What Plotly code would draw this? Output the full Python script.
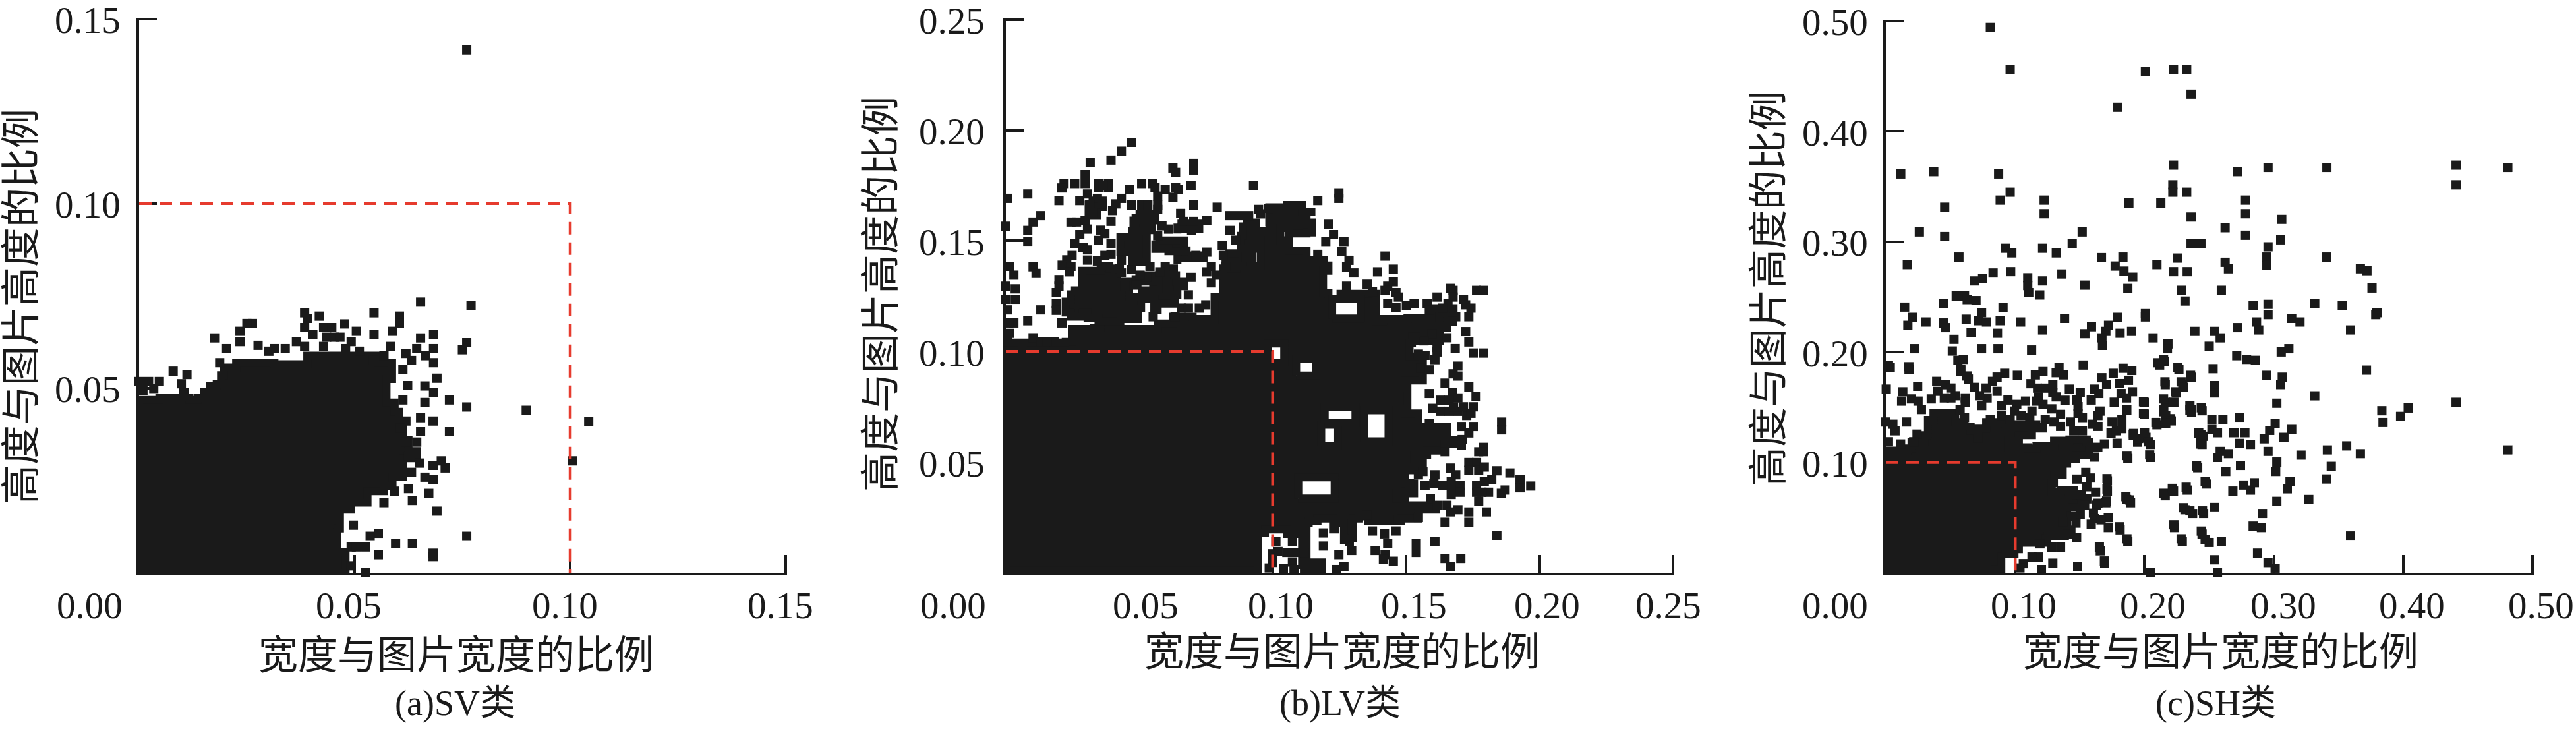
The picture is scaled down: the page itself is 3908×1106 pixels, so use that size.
import plotly.graph_objects as go

# All values below are in thousandths of the image ratio.
SV_POINTS = [(76,141.6),(77,72.3),(65.3,73.3),(76,62.3),(75,60.4),(0,51.8),(2.2,51.8),(4.7,51.8),(3.4,49.9),(.9,49.3),
(7.9,54.6),(11.1,53.7),(9.8,51.2),(10.4,48.9),(18.7,56.9),(17.5,63.6),(20.3,60.7),(23.4,65.4),(23.4,62.6),(26.3,67.5),(25,67.5),
(27.6,61.6),(30.1,60),(31.4,60.7),(33.9,60.7),(36.5,62.6),(38.4,61.3),(38.4,70.4),(39,68.9),(41.8,69.5),(38.4,66.4),
(40.3,64.6),(42.8,66.4),(44.7,66.4),(43.5,63.8),(42.8,61.3),(45.4,63.8),(47.7,67.4),(46.6,63.8),(50.4,65.4),(49.2,62.6),(51.1,60),(47.9,60.7),
(54.5,70.4),(60.4,69.5),(60.4,67.6),(58.8,65.4),(54.5,64.5),(58.3,61.3),(54.3,57.5),(56.8,58.8),(61.9,59.4),(64.4,60.7),(65.3,63.6),(68.3,64.5),(68.3,60.7),(66.4,58.8),(63.2,57.5),(61.2,55),
(68.3,56.9),(69.1,52.7),(66.3,50.6),(68.3,48.9),(62.3,50.7),(61.2,46.8),(66.3,46.1),
(72,46.8),(76,44.9),(89.8,44),(104.3,41),(100.5,30.3),(72,38.2),(68.2,41.1),(65.3,42),(65.3,38.2),(61.9,41.1),(60.6,39.2),(61.9,35.4),(64.4,35.4),
(71,28.4),(70.1,30.3),(68.2,29.1),(65.1,29.7),(62.5,31.6),(63.2,27.2),(68.2,25.3),(66.3,25.9),(67.2,21.5),(62.5,22.8),(63.4,19.6),(69.1,16.7),(56.8,19),(59.3,22.1),
(76,9.9),(68.2,5.3),(68.2,4.4),(63.4,8),(59.5,8),(55.5,4.9),(52.6,7),(55.5,10.7),(53.6,9.9),(49.2,7),(50.4,7),(49.7,12.9),(52.6,0),(49.2,1.9)]
SV_DENSE = [[(0,0),(0,46.8),(4.7,47.4),(11.7,46.8),(13.6,47.4),(15,49),(16.5,50.5),(18,51.2),(19,53.5),(19.7,55.6),(22.5,56.9),(31.4,56.5),(39,58.8),(51.7,58.8),(55.5,56.9),(58.7,52.5),(57.4,46.1),(59.3,43.6),(60.3,39),(61.2,36),(62.5,33),(64.4,31),(61.2,25.9),(58.8,23.5),(56.8,22.1),(53,19),(49.2,17.1),(46.6,12),(46,5.7),(47.9,3.8),(47.9,0)]]

LV_POINTS = [(47.1,194.5),(43.3,190.5),(39.4,186.5),(31.6,185.5),(70.4,185),(70.4,182),(62.6,182.9),(63.6,180.9),(29.7,179.9),(29.7,175.9),(25.8,175.9),(21.8,175.9),(21,173.9),
(34.7,175.9),(38.4,175.9),(34.7,174.1),(38.4,174.1),(36.5,175),(46.2,173.1),(50.9,175.9),(54.9,175.9),(55.9,174.1),(59.7,173.1),(63.6,174.1),(64.7,173.1),(62.6,169.7),(69.4,174.9),(92.8,174.9),
(8.2,171.2),(.6,169.2),(19.9,168.2),(27.7,168.2),(30.6,171.2),(34.3,169.2),(36.3,166.7),(31.4,166.2),(32.6,162.7),(43.3,169.2),(41.2,166.7),(40,163.7),(39.4,158.8),(47.1,166.2),(50.9,166.2),(53.2,166.2),
(56.9,170.2),(56.9,166.2),(56.9,164.2),(70.4,166.2),(79.2,165.2),(84,161.4),(87.7,161.4),(91,161.4),(65.5,162.4),(66.7,158.8),(75.3,159.3),(13.1,161.4),(10.2,158.5),(8.2,154.7),(8.2,149.8),(0,156.6),(24.4,158.5),(26.5,158.5),
(29.7,159.3),(30.6,155.3),(27.7,152.8),(25.8,148.9),(35.5,154.8),(37.1,153.3),(34.7,150.2),(39.4,148.9),
(58.5,156.8),(61,155.3),(69.6,154.8),(70.4,158.8),(56.9,152.3),
(75.3,144.9),(71.2,143.4),(67.5,145.4),(81.1,147.9),(84,154.7),(86,150.3),(95.5,162.2),(94.7,164.2),(98.4,164.7),
(28.9,146.9),(30.6,145.9),(24.8,143.4),(22.8,141.4),(21.1,139),(24.4,138.5),(23.9,136),(39.4,143.9),(37.1,143.4),(30.6,141.3),(34.3,140.9),(43.3,141.2),(42.5,137.5),(43.3,135.5),(54,138.5),(47,137),(59.7,138.5),(57.7,136),
(1.4,138.5),(3,134.5),(10.2,138.3),(11.3,135.3),(69.4,133.5),(19.9,132.5),(19.9,129.5),(18.9,126.6),(0,129.5),(3.5,128.3),(0,123.6),(3.5,123.6),(18.9,121.6),(18.9,118.6),(.6,118.8),(13.1,118.8),(8.2,113.9),(3,112.9),(1,112.9),(21,112.9),
(1.4,108.2),(.6,104.3),(10.2,106.2),(6.3,103.3),(13.1,104.3),(18.1,104.3),(15.5,104.5),
(49.1,130),(52.8,133.5),(50.3,134.5),(44.5,129.5),(68.4,125.6),(65.9,119.6),(68.4,119.6),(72.5,119.6),(74.9,121.1),(55.2,115.7),(63.4,115.7),(77,138.5),(75.3,136),(77,131),(79,134.5),(82.3,138.5),(81.5,143.4),
(116.9,168.2),(124.8,171.7),(124.8,169.2),(120.9,157.5),(122.8,152.8),(119.9,149.7),(126.7,149.7),(125.9,145.1),(128.6,141.2),(127.7,138.2),(130.4,135.5),(116.9,143.9),(142.1,143.1),(145.2,137.2),(139.3,136),(145.2,131.5),(143.1,129.5),(142.1,127.6),
(135.4,130.4),(127.7,129.5),(137.4,127.1),(146.2,126.6),(147.1,124.6),(143.1,121.6),(146.2,119.8),(150.1,120.8),(153,121.6),(157.9,121.6),(158.7,118.6),(161.6,124.6),(166.5,128.5),(167.6,127.6),(167.6,124.6),(176.4,127.6),(179.1,127.6),
(171.5,123.6),(172.3,121.1),(174.3,119.6),(165.7,121.6),(163.7,119.6),(173.5,115.7),(168.6,115.7),(167.4,113.7),(172.3,109),(173.5,104.3),(175.3,99.3),(179.1,99.3),(168.4,101.3),(161.6,101.8),(161.6,99.8),(160.8,96.3),(169.4,93.4),(167.6,89.9),(169.4,88.9),(164.6,85.7),(173.5,84),
(159.7,108),(165.3,106.2),(156.7,104.8),(155.4,92.4),(158.7,91.7),(154.6,98.8),(157.1,98.3),
(176.2,79.8),(158.7,81),(167.4,81.5),(169.4,79),(162.8,78),(166.1,78),(162.8,73),(166.1,73),(169.4,73),(172.7,71.1),(171.5,75),(175.2,75),(160,74.3),(174.3,72.1),(167.8,75),(175.2,66.1),(170.7,66.1),(173.5,63.2),(158.7,67.6),(185.8,68.1),(185.8,64.6),
(179.1,56.7),(177.2,54.7),(179.1,54.7),(164.6,54.7),(170.7,57.7),(171,60.2),(173.5,49.8),(176.4,49.8),(173.5,46.3),(177.2,46.3),(179.3,47.8),(166.5,47.3),(184,46.1),(188.9,45.1),(192.7,42.3),(192.7,38.4),(196.7,39.2),
(182.1,42.3),(179.3,41.4),(176.4,39.4),(176.4,36.4),(180.9,36.4),(178.4,36.4),(187.1,37.4),(185.7,35.9),(177.2,32.4),(168.6,44.3),(166.9,41.4),(170.2,39.4),(170.2,36.4),(166.9,35.4),(166.9,39.4),(163.7,39.4),(160.8,44.3),(160.4,40.4),(157.1,39.4),
(154.6,44.3),(151.3,40.4),(154.2,48.3),(156.3,45.8),(159.1,33.4),(161.6,30.5),(165.3,30.5),(169.4,28.5),(166.5,27.5),(173.5,27.5),(180.1,27.5),(164.6,22.8),(173.5,22.8),(184,16.9),(160.8,14.1),(153.8,13.1),(153.8,9.2),(164.6,6.5),(170.5,6.5),(166.5,2.7),
(146.2,18.9),(141.9,17.6),(137.4,18.9),(143.1,13.1),(138.4,10.1),(142.1,8.2),(145.2,5.2),(141.5,6.2),(129.6,10.1),(128.7,14.1),(124.8,8.2),(119,18),(119,12.1),(123.8,1.5),(126.7,2.7),(154.6,25),(147.2,24),(135.3,26),
(101.2,14.1),(107.4,14.1),(102,9.6),(105.3,9.2),(108.6,9.2),(111.9,9.2),(107.4,4.9),(100,4.7),(100,8.6),(98.7,2.2),(104,2),(108,1.5)]
LV_DENSE = [
[(0,0),(0,104),(22.4,104.3),(24.8,110.2),(33,110.7),(35.5,114.2),(41.7,110.2),(50.3,109.2),(51,110.2),(56.9,112.7),(62.6,115.7),(70,114.7),(72.5,114.7),(75.8,114.2),(78.2,117.6),(78.2,124.6),(81.5,130.5),(81.5,137.5),(86.4,138.5),(94.7,138.5),(95.5,150.4),(93.8,154.3),(98.8,158.3),
(98.7,165.2),(105.3,166.2),(111.1,163.2),(116,163.2),(112.7,158.3),(114.8,153.8),(112.7,153.3),(106.1,155.8),(102.9,155.8),(102.9,150.3),(106.1,149.4),(106.1,145.4),(112.7,141.4),(119.3,138.9),(120.9,136.5),(118.9,134.5),(118.9,126.6),(120.9,123.6),(125.4,126.1),(138.6,124.6),(138.6,113.7),(141.5,114.7),(147.2,114.7),(150.5,115.2),(156.3,115.2),(159.5,119.6),(167.8,115.7),(165.3,110.7),(162.8,104.8),(153.8,106.7),(152.2,103.8),(151.3,97.8),
(156.3,86.9),(149.7,83.5),(150.5,74),(149.7,72),(154.6,66.1),(165.3,66.1),(165.3,60.2),(170.2,58.2),(164.5,55.2),(157.9,53.2),(153,51.3),(156.3,46.3),(143.9,45.3),(149.7,40.4),(153,35.9),(146.4,33.4),(149.7,30.5),(161.2,28.5),(154.6,24.5),(148.1,23.5),(139.8,23.5),(135.7,25.5),(132.4,24.5),(130,15.6),(128.3,14.6),(126.7,22.5),(123.4,19.6),(122.6,24.5),(116.8,23.5),(113.5,22.5),(112.7,4.7),(118.5,4.7),(118.5,1.7),(110.2,1.7),(111,17.6),(105.3,19.6),(100.4,19.6),(97.1,18),(94.6,12.6),(94.6,1)],
# empty pockets inside the dense mass (wound the other way, so they stay unfilled)
[(134.2,59.4),(143.4,59.4),(143.4,73.4),(134.2,73.4)],
[(118.2,57.4),(124.5,57.4),(124.5,66.9),(118.2,66.9)],
[(119.5,67.8),(131,67.8),(131,74.9),(119.5,74.9)],
[(109.6,33.6),(123.2,33.6),(123.2,43.1),(109.6,43.1)],
[(122.3,114.9),(133.1,114.9),(133.1,123.9),(122.3,123.9)],
[(98.1,95),(104.3,95),(104.3,103.6),(98.1,103.6)],
[(108.8,89.1),(116.2,89.1),(116.2,96.6),(108.8,96.6)],
[(24.4,127.6),(27.7,127.6),(28.5,136.5),(34.7,136.5),(35.5,138.5),(38.8,137.5),(40.8,133.5),(41.7,131.5),(46.2,129.5),(46.2,124.6),(49.5,124.6),(50.7,119.6),(49.5,114.7),(42.9,113.7),(34.7,115.2),(30.6,117.6),(28.9,115.7),(24.4,117.6),(22.4,122.6)],
[(57.3,135.5),(61,137.5),(63,134.5),(63.8,131.5),(66.7,129.5),(64.3,125.6),(63.4,121.6),(56.9,118.6),(55.6,123.6),(51.1,124.6),(51.1,127.6),(55.2,128.5)],
[(47.4,156.3),(54.8,156.3),(54.8,154.8),(48.6,154.3),(52.8,149.4),(52.8,140.4),(48.6,140.4),(47.4,144.9),(42.9,146.4),(42.9,151.8),(47.4,152.8)],
[(64.3,157.8),(72.5,157.8),(72.5,155.3),(64.3,153.3)],
[(64.3,143.4),(74.1,144.4),(74.1,142.4),(64.3,139.4)],
[(56,150.2),(63.4,150.2),(66.7,148.3),(66.7,145.3),(60.9,146.3),(56,146.3)],
[(48.6,162.2),(56,162.2),(56,159.2),(47.8,158.2)],
[(31,168.2),(36.3,168.2),(36.3,165.3),(34.3,161.3),(31,161.3)],
[(48.6,134.5),(55.2,134.5),(55.2,131.6),(48.6,131.6)],
[(82.3,144.4),(88.9,145.4),(88.9,140.4),(82.3,139.9)],
[(88.9,158.3),(93.8,157.3),(93.8,146.4),(92.2,142.4),(89.7,146.4),(88.1,152.3)]]

SH_POINTS = [(80.8,494),(96.1,456),(200.7,454.3),(222.4,456),(232.6,456),(236,433.6),(179.4,421.7),(11.5,361.3),(37,363.4),(87.2,361.3),(222.4,369.3),(272.1,363.4),(295.5,367.2),(341,367.2),(440.9,369.3),(440.9,351.5),(480.9,367.2),
(221.9,351.5),(221.9,344.8),(232.6,344.8),(96.1,344.8),(88.4,337.6),(122.4,337.6),(122.4,325.3),(45.5,331.2),(187.9,335),(212.6,335),(278.1,337.6),(278.1,325.3),(306.1,320.2),(236,322.3),(262.3,312.6),(278.1,305.8),(305.3,301.6),
(25.9,308.8),(45.5,304.6),(151.8,308.8),(144.1,298.2),(236,298.2),(243.6,298.2),(295.5,295.3),(121.2,294),(131.8,289.8),(92.7,294),(97.4,289.8),(56.5,286),(16.6,279.2),(166.7,285.5),(183.3,286),(225.3,285.1),(294.6,286),(294.6,278.4),(340.6,286),
(209.6,279.2),(177.3,277.9),(262.3,281.3),(264.9,275.4),(184.1,273.3),(222.4,272.8),(233,272.8),(96.5,272.8),(82.9,271.6),(74.8,266.5),(68.5,264.4),(136.1,270.7),(190.9,267.8),(109.7,267.3),(109.7,260.2),(110.5,253.8),(121.2,264.4),(119,251.7),
(153.9,260.6),(187.1,257.6),(228.7,255.9),(259.4,255.9),(366.9,275.4),(372,273.7),(375.9,258),(379.7,235.6),(378.8,233.9),(352.9,242.4),(331.6,244.1),(359.3,220),(371.6,183.6),(295.5,243.2),(295.5,233.9),(284,242.4),(231.3,246.2),(313.8,230.5),(320.2,227.2),
(286.6,227.2),(288.3,220),(272.1,222.1),(238.9,218.7),(254.3,218.7),(258.5,212.8),(250,205.2),(200.7,234.8),(200.7,231.8),(179,231.4),(218.1,207.3),(217.7,203),(206.6,212.8),(190,218.7),(181.1,217),(172.2,224.2),(170.1,218.7),(167.1,212.8),(167.5,206),
(159,222.9),(153.9,216.6),(121.2,220),(138.2,230.5),(104.2,227.2),(112.7,201.8),(14.5,240.7),(20.8,231.4),(17,224.2),(31,227.2),(44.6,244.1),(44.6,226.3),(45.9,222.1),(54.4,250.8),(60.8,250.8),(62.9,247.5),(69.7,246.6),(90.6,240.3),
(74,235.6),(71.4,228.4),(77.8,227.2),(88.4,228.4),(86.3,217),(62.1,229.7),(65.9,217.9),(52.7,211.5),(51.4,200.9),(55.7,192.5),(59.9,193.3),(74,203),(86.7,203),(22.1,203),(3.4,186.1),(17.9,184.4),(57.8,182.7),(63.8,175.5),(152.6,188.2),
(311.6,203),(305.7,200.1),(271.3,196.7),(278.9,193.3),(285.7,192.5),(226.6,184),(236.4,177.2),(229.6,170.5),(216,170.5),(224.5,162.9),(211.7,188.2),(215.1,191.2),(253,184.9),(254.3,169.6),(254.3,162.9),(294.6,178.9),(306.5,177.2),(305.3,170.5),
(302.3,153.6),(331.6,160.3),(440.9,154.4),(383.5,146.8),(384.4,136.2),(398,141.7),(403.9,149.3),(480.9,111.3),(356.3,115),(366.9,107.9),(341.4,111.3),(321,106.6),(344.4,96.4),(340.6,85),(327,66.4),(359.3,33.4),(312.5,82.5),(310.4,76.1),(302.3,64.7),(301.4,91.8),(302.3,100.3),
(313.8,129.9),(307.8,122.7),(301,135.4),(296.8,129),(292.5,121.4),(295.5,110),(273.4,140.9),(277.6,126.9),(269.1,126.9),(273.4,117.2),(281.9,116.3),(260.6,138.8),(252.1,138.8),(252.1,129.9),(256.4,126.9),(243.6,124.8),(244.5,116.3),
(258.5,110),(256.4,104.5),(264.9,107.9),(274.2,97.3),(262.8,91.8),(241.1,95.2),(247.9,80.4),(233,74.9),(222.4,74),(216,69.8),(268.3,74),(276.4,79.5),(281.9,74.9),(284.9,81.6),(254.3,59.2),(245.7,53.7),(237.2,53.7),(231.3,57.1),(291.2,53.7),(284,42.3),(290.4,41),
(223.2,41),(229.2,28.3),(244.5,35.1),(250,27.5),(259.4,28.3),(254.3,11.8),(256.4,.4),(204.5,.4),(287.4,17.8),(295.5,9.3),(301,4.2),(236.4,148.1),(244.5,146.8),(236.4,145.1),(199.8,154.4),(199.8,143.8),(216,154.4),(214.8,145.9),(220.2,139.6),(216,135.4),(209.6,134.1),
(191.3,124.8),(201.1,122.7),(194.7,118.4),(204.5,116.3),(204.5,104.5),(187.1,103.6),(186.2,66.4),(189.2,63.5),(181.1,38.9),(187.1,28.3),(169.2,8.5),(165.8,19.9),(171.3,83.3),(171.3,74),(170.1,63.5),(162.8,61.3),
(133.9,186.3),(137.6,179.3),(131.7,181.3),(121.5,182.3),(115.6,179.3),(112.2,171.3),(117.3,167.3),(123.2,167.3),(129.1,170.3),(129.1,163.3),(138.5,156.3),(131.7,159.3),(118.1,159.3),
(91.9,180.7),(86,177.3),(82.5,173.4),(77.5,167.4),(86,164.4),(78.3,158.4),(72.4,160.4),(74.1,151.5),(101.7,178.9),(68.5,168),(39.3,173.4),(46.1,170.4),(50.3,167.4),(53.7,160.4),(40.2,164.4),(35.1,157.5),(45.2,158.4),(61.4,158.4),(61.4,154.5),(50.3,158.4),(57.4,147.5),(60.8,140.6),
(24.6,169),(13.1,164),(12.2,155.5),(19.8,157.5),(24.9,155.5),(27.5,147.9),(.3,166.4),(15.9,136.6),(0,136.6),(5.4,134.6),(7.1,128.6),(2,118.7),(11.4,116.7),(24.1,125.6),(21.5,118.7),(17.8,186.7),(62.7,178.3),(58,184.3),(2,187.9),
(94.4,156.5),(101.2,152.5),(108,155.5),(116.4,155.5),(121.5,152.5),(89.3,151.5),(99.5,146.5),(104.6,142.5),(113,146.5),(111.3,140.6),(89.3,142.5),(80.8,138.6),(96.1,138.6),(128.3,148.5),(135.1,143.5),(123.2,138.6),(135.1,132.6),(130,136.6),
(141.9,166.4),(150.3,163.4),(147.8,156.5),(158.8,156.5),(164.7,162.4),(161.4,166.4),(148.6,150.5),(148.6,144.5),(152,140.6),(142.7,136.6),(145.3,128.6),(152,128.6),(159.7,134.6),(164,132.6),(165.6,146.5),(164,142.5),
(167,176.7),(170.7,170.8),(175.8,180.7),(183.4,185.3),(190.2,183.3),(180.9,171.4),(187.6,174.4),(181.9,162.4),(190.7,164),(186.1,158.4),(176.6,154.5),(186.3,147.5),(182.5,138.6),(182.5,130.6),(174.9,136.6),(174.1,126.6),(178.3,128.6),
(169,116.7),(163.9,113.7),(178.8,117.3),(161.4,104.8),(186.4,106.2),(204,106.8),(191.5,126.2),(195.6,121.7),(200,126.6),(202.9,118.7),(199.2,154.9),(199.2,144.5),(214.7,157.5),(214.7,147.5),(216.4,142.5),(220.7,137.6),(216.4,135.6),(208.8,136.2),(222.7,154.5),
(215.8,173),(228.3,173),(230,168),(224.1,164),(235.6,178.9),(225.8,186.3),(214.7,193.2),(210.5,190.3),(235.1,151.5),(235.1,147.5),(243.9,149.5),(241.9,126.6),(245.3,123.7),(243.6,116.7),(240.2,96.8),(246.9,82.9),(214.7,72),(221.5,76.5),(232.2,77.5),
(185.6,69),(188.5,66),(230,59),(235.1,56.1),(244.8,56.1),(222.7,43.5),(243.9,37.8),(246.9,30.2),(228.3,30.8),(171,85.3),(171,75.9),(154.6,90.9),(147.8,84.9),(158,85.9),(155.4,77.9),(162.2,73),
(170.7,65),(163.9,63),(155.4,67),(153.7,61),(144.4,67),(151.2,70),(147.8,71),(150.3,53),(160.5,54),(161.4,49),(172,50),(172,41),(166.4,48),(158.8,44),(147,45),(143.6,51),(136.8,46),(180.5,41.7),(186.4,30.8),(147.5,32.2),(140.2,35.2),(135.1,23.3),(128.3,23.3),(119.2,26.2),
(165.1,23.3),(169,10.7),(129.1,8.7),(148.3,5.4),(120.3,3),(118.1,14.3),(113,14.3),(106.3,8.3),(103.7,4.4)]
SH_DENSE = [[(0,0),(0,96.8),(0,104.8),(2,110.7),(16.4,112.7),(19.8,118.7),(30,124.7),(32.5,138.6),(36.8,144.5),(50.3,144.5),(53.7,136.6),(60.5,132.6),(65.6,128.6),(70.7,121.7),(71.5,130.6),(77.5,136.6),(92.7,134.6),(104.6,134.6),(116.4,132.6),(121.5,130.6),(113,124.7),(102.9,119.7),(94.4,113.7),(109.7,112.7),(116.4,114.7),(130,119.7),(141.9,120.7),(155.4,118.7),(157.1,106.8),(147,102.8),(140.2,98.8),(136.8,88.9),(130,80.9),(128.3,73),(135.1,75),(145.3,71),(150.3,67),(150.3,59),(138.5,53.1),(140.2,39.2),(143.6,35.2),(138.5,33.2),(124.9,31.2),(123.6,27.2),(109.7,27.2),(102.9,21.3),(99.5,17.3),(89.3,18.3),(89.3,3.4),(84.2,1.4),(84.2,0)]]

THRESHOLD = 100
X_LABELS = {"a": ["0.00","0.05","0.10","0.15"], "b": ["0.00","0.05","0.10","0.15","0.20","0.25"], "c": ["0.00","0.10","0.20","0.30","0.40","0.50"]}
X_TICKS = {"a": [0,.05,.10,.15], "b": [0,.05,.10,.15,.20,.25], "c": [0,.1,.2,.3,.4,.5]}
CAPTIONS = {"a": "(a)SV类", "b": "(b)LV类", "c": "(c)SH类"}
X_TITLE = "宽度与图片宽度的比例"
Y_TITLE = "高度与图片高度的比例"

W, H = 3908, 1106
INK = "#1a1a1a"
RED = "#e63b2e"
FONT = "Liberation Serif, 'Noto Sans CJK SC', serif"
PANELS = {
 "a": dict(sfx="", box=(211,1194,27,869), pts=SV_POINTS, dense=SV_DENSE, xmax=.15, shifts=[-75,-9,-8,-8], lab_gap=26,
           ytitle=(33,465), xtitle=(692,995), cap=(690,1067)),
 "b": dict(sfx="2", box=(1526,2540,28,869), pts=LV_POINTS, dense=LV_DENSE, xmax=.25, shifts=[-80,10,12,12,11,-7], lab_gap=30,
           ytitle=(1337,446), xtitle=(2036,990), cap=(2033,1067)),
 "c": dict(sfx="3", box=(2861,3844,30,869), pts=SH_POINTS, dense=SH_DENSE, xmax=.5, shifts=[-77,13,13,14,13,13], lab_gap=25,
           ytitle=(2684,438), xtitle=(3369,990), cap=(3361,1067)),
}

fig = go.Figure()
layout = {}
ann = []
for key, p in PANELS.items():
    s = p["sfx"]
    x0, x1, top, bot = p["box"]
    rng = [0, p["xmax"]*1.002]
    axis = dict(showgrid=False, zeroline=False, showline=True, linecolor=INK, linewidth=4, automargin=False,
                ticks="inside", ticklen=27, tickwidth=4, tickcolor=INK, layer="below traces", showticklabels=False)
    layout["xaxis"+s] = dict(axis, domain=[x0/W, x1/W], range=rng, anchor="y"+s, tickvals=X_TICKS[key][1:])
    layout["yaxis"+s] = dict(axis, domain=[1-bot/H, 1-top/H], range=rng, anchor="x"+s, tickvals=X_TICKS[key][1:])
    dx, dy = [], []
    for poly in p["dense"]:
        dx += [q[0]/1000 for q in poly] + [poly[0][0]/1000, None]
        dy += [q[1]/1000 for q in poly] + [poly[0][1]/1000, None]
    fig.add_trace(go.Scatter(x=dx, y=dy, mode="lines", fill="toself", fillcolor=INK,
                             line=dict(color=INK, width=12, shape="hv"),
                             cliponaxis=False, hoverinfo="skip", showlegend=False, xaxis="x"+s, yaxis="y"+s))
    fig.add_trace(go.Scatter(x=[q[0]/1000 for q in p["pts"]], y=[q[1]/1000 for q in p["pts"]], mode="markers",
                             marker=dict(symbol="square", size=14, color=INK), cliponaxis=False,
                             showlegend=False, xaxis="x"+s, yaxis="y"+s))
    t = THRESHOLD/1000
    fig.add_trace(go.Scatter(x=[0,t,t], y=[t,t,0], mode="lines", line=dict(color=RED, width=4.5, dash="19px,12px"),
                             cliponaxis=False, showlegend=False, xaxis="x"+s, yaxis="y"+s))
    for v, lab, sh in zip(X_TICKS[key], X_LABELS[key], p["shifts"]):
        ann.append(dict(x=v, xref="x"+s, y=1-918/H, yref="paper", text=lab, showarrow=False, xshift=sh,
                        xanchor="center", yanchor="middle", font=dict(family=FONT, size=57, color=INK)))
    for v, lab in zip(X_TICKS[key][1:], X_LABELS[key][1:]):
        ann.append(dict(x=(x0-p["lab_gap"])/W, xref="paper", y=v, yref="y"+s, text=lab, showarrow=False, yshift=-2,
                        xanchor="right", yanchor="middle", font=dict(family=FONT, size=57, color=INK)))
    for pos, txt, ang, sz in [(p["xtitle"], X_TITLE, 0, 60), (p["cap"], CAPTIONS[key], 0, 54), (p["ytitle"], Y_TITLE, -90, 60)]:
        ann.append(dict(x=pos[0]/W, y=1-pos[1]/H, xref="paper", yref="paper", text=txt, textangle=ang, showarrow=False,
                        xanchor="center", yanchor="middle", font=dict(family=FONT, size=sz, color=INK)))

fig.update_layout(width=W, height=H, margin=dict(l=0, r=0, t=0, b=0, autoexpand=False), paper_bgcolor="white", plot_bgcolor="white",
                  showlegend=False, annotations=ann, **layout)
fig.write_html("out.html", config={"displayModeBar": False}, post_script="document.body.style.margin='0';")
